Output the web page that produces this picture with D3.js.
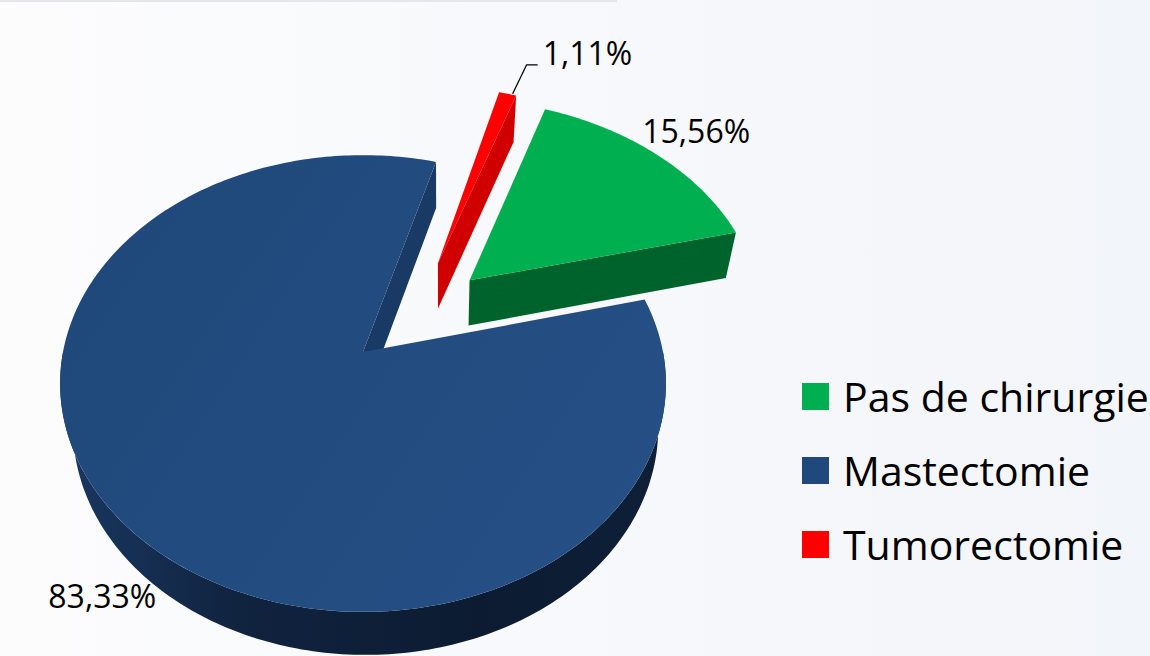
<!DOCTYPE html>
<html><head><meta charset="utf-8">
<script src="https://cdn.jsdelivr.net/npm/d3@7"></script>
<style>html,body{margin:0;padding:0;background:#fafbfc;} svg{display:block}</style>
</head><body><svg id="chart" width="1150" height="656"></svg>
<script>
// ---- data ----
const categories = ["Pas de chirurgie", "Mastectomie", "Tumorectomie"];
const values = [15.56, 83.33, 1.11];
const valueLabels = ["15,56%", "83,33%", "1,11%"];
const pieOrder = ["Tumorectomie", "Pas de chirurgie", "Mastectomie"];

// ---- styles / layout ----
const topColors = {"Pas de chirurgie": "#00b050", "Mastectomie": "url(#blueTop)", "Tumorectomie": "#ff0000"};
const sideColors = {"Pas de chirurgie": "#00632c", "Mastectomie": "url(#blueSide)", "Tumorectomie": "#cc0000"};
const cutColors = {"Pas de chirurgie": "#00632c", "Mastectomie": "#1a3a66", "Tumorectomie": "#d00000"};
const legendColors = {"Pas de chirurgie": "#00b050", "Mastectomie": "#1f497d", "Tumorectomie": "#ff0000"};
const explode = {"Pas de chirurgie": {a: 48, d: 0.5}, "Mastectomie": {a: 0, d: 0}, "Tumorectomie": {a: 32.2, d: 0.496}};
const labelOffsets = {"Pas de chirurgie": [-14.5, -11.5], "Mastectomie": [-76, 84], "Tumorectomie": [35, -29]};

const W = 1150, H = 656;
const cx = 363, cy = 352, S = 300, A = 224, q = 0.138;
const vpX = 440, kx = 0.966;
const rad = Math.PI / 180;
const startDeg = 16;

const svg = d3.select("#chart");
const defs = svg.append("defs");
const bg = defs.append("linearGradient").attr("id", "bg").attr("x1", 0).attr("x2", 1).attr("y1", 0).attr("y2", 0);
bg.append("stop").attr("offset", 0).attr("stop-color", "#fcfcfd");
bg.append("stop").attr("offset", 1).attr("stop-color", "#f2f5f9");
const bt = defs.append("linearGradient").attr("id", "blueTop").attr("gradientUnits", "userSpaceOnUse")
  .attr("x1", 60).attr("y1", 200).attr("x2", 660).attr("y2", 600);
bt.append("stop").attr("offset", 0).attr("stop-color", "#1f477a");
bt.append("stop").attr("offset", 1).attr("stop-color", "#265186");
const bs = defs.append("linearGradient").attr("id", "blueSide").attr("gradientUnits", "userSpaceOnUse")
  .attr("x1", 57).attr("y1", 0).attr("x2", 663).attr("y2", 0);
bs.append("stop").attr("offset", 0).attr("stop-color", "#1a3862");
bs.append("stop").attr("offset", 0.3).attr("stop-color", "#10233f");
bs.append("stop").attr("offset", 0.7).attr("stop-color", "#0c1b31");
bs.append("stop").attr("offset", 1).attr("stop-color", "#0e1f38");

svg.append("rect").attr("width", W).attr("height", H).attr("fill", "url(#bg)");
svg.append("rect").attr("x", 0).attr("y", 0).attr("width", 617).attr("height", 2).attr("fill", "#e4e6ea");

// projection through scales
const xs = d3.scaleLinear().domain([-1, 1]).range([cx - S, cx + S]);
const ys = d3.scaleLinear().domain([-1, 1]).range([cy - A, cy + A]);
function projT(u, v) { const w = 1 - q * v; return [xs(u / w), ys(v / w)]; }
function depthAt(y) { return 46 - 3 * (y - 160) / 453; }
function projB(u, v) { const p = projT(u, v); return [vpX + kx * (p[0] - vpX), p[1] + depthAt(p[1])]; }
function dir(t) { return [Math.sin(t), -Math.cos(t)]; }

const data = categories.map((c, i) => ({name: c, value: values[i], label: valueLabels[i]}));
const pie = d3.pie().value(d => d.value)
  .sort((a, b) => pieOrder.indexOf(a.name) - pieOrder.indexOf(b.name))
  .startAngle(startDeg * rad).endAngle(startDeg * rad + 2 * Math.PI);
const arcs = pie(data);

const line = d3.line();
function sample(a0, a1) { const n = Math.max(2, Math.ceil((a1 - a0) / rad)); return d3.range(n + 1).map(i => a0 + (a1 - a0) * i / n); }

arcs.forEach(a => {
  const e = explode[a.data.name];
  a.off = [e.d * Math.sin(e.a * rad), -e.d * Math.cos(e.a * rad)];
  a.apexY = projT(a.off[0], a.off[1])[1];
});
const drawOrder = arcs.slice().sort((p, r) => p.apexY - r.apexY);

const g = svg.append("g");
drawOrder.forEach(a => {
  const name = a.data.name, o = a.off;
  const rim = t => { const d = dir(t); return [o[0] + d[0], o[1] + d[1]]; };
  const sg = g.append("g");
  // outer wall (front half)
  const lo = Math.max(a.startAngle, 90 * rad), hi = Math.min(a.endAngle, 270 * rad);
  if (hi > lo) {
    const ts = sample(lo, hi);
    const pts = ts.map(t => projT(...rim(t))).concat(ts.slice().reverse().map(t => projB(...rim(t))));
    sg.append("path").attr("d", line(pts) + "Z").attr("fill", sideColors[name]);
  }
  // radial cut faces
  if (Math.sin(a.endAngle) > 0) {
    const r = rim(a.endAngle);
    const pts = [projT(...o), projT(...r), projB(...r), projB(...o)];
    sg.append("path").attr("d", line(pts) + "Z").attr("fill", cutColors[name]);
  }
  if (-Math.sin(a.startAngle) > 0) {
    const r = rim(a.startAngle);
    const pts = [projT(...o), projT(...r), projB(...r), projB(...o)];
    sg.append("path").attr("d", line(pts) + "Z").attr("fill", cutColors[name]);
  }
  // top face
  const pts = [projT(...o)].concat(sample(a.startAngle, a.endAngle).map(t => projT(...rim(t))));
  sg.append("path").attr("d", line(pts) + "Z").attr("fill", topColors[name]);
});

// labels
arcs.forEach(a => {
  const name = a.data.name, o = a.off;
  const mid = (a.startAngle + a.endAngle) / 2;
  const d = dir(mid);
  const anchor = projT(o[0] + d[0], o[1] + d[1]);
  const off = labelOffsets[name];
  const lx = anchor[0] + off[0], ly = anchor[1] + off[1];
  if (name === "Tumorectomie") {
    svg.append("path").attr("d", line([[anchor[0] + 5, anchor[1]], [lx - 16, ly], [lx - 5, ly]]))
      .attr("fill", "none").attr("stroke", "#000").attr("stroke-width", 1.3);
  }
  svg.append("text").attr("x", lx).attr("y", ly).text(a.data.label)
    .attr("font-family", "'Open Sans', sans-serif").attr("font-size", 32).attr("fill", "#000");
});

// legend
const lg = svg.append("g");
categories.forEach((c, i) => {
  const y = 383 + i * 74;
  lg.append("rect").attr("x", 802).attr("y", y).attr("width", 27).attr("height", 27).attr("fill", legendColors[c]);
  lg.append("text").attr("x", 843).attr("y", y + 29).text(c)
    .attr("font-family", "'Open Sans', sans-serif").attr("font-size", 41).attr("fill", "#000");
});
</script>
</body></html>
